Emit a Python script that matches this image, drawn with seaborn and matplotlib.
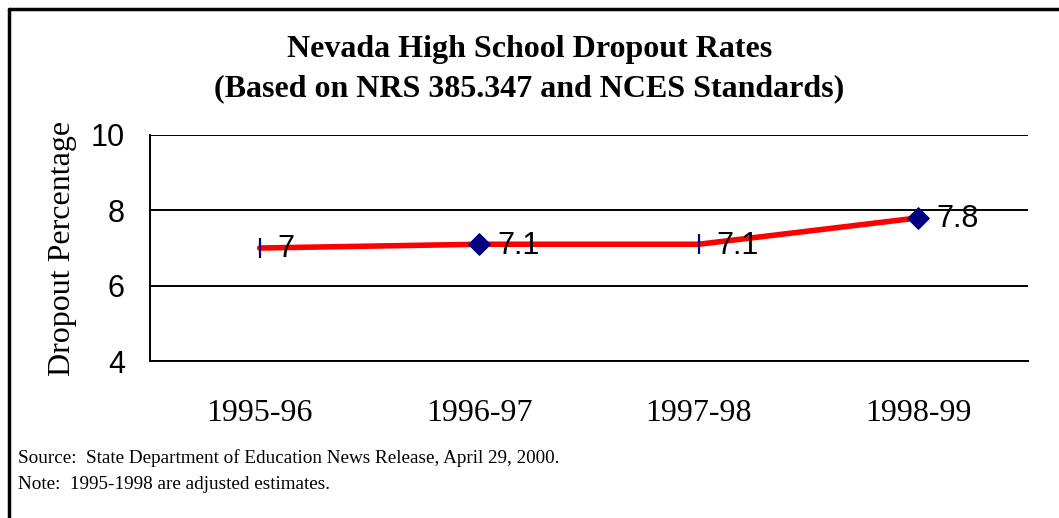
import matplotlib.pyplot as plt
import numpy as np
import pandas as pd
import seaborn as sns
from matplotlib.lines import Line2D

sns.set_style("white")
plt.rcParams["font.family"] = ["Liberation Serif", "DejaVu Serif"]
plt.rcParams["text.color"] = "black"
plt.rcParams["axes.labelcolor"] = "black"
plt.rcParams["xtick.color"] = "black"
plt.rcParams["ytick.color"] = "black"

years = ["1995-96", "1996-97", "1997-98", "1998-99"]
rates = [7.0, 7.1, 7.1, 7.8]
marker_kind = ["tick", "diamond", "tick", "diamond"]
yticks = [4, 6, 8, 10]

df = pd.DataFrame({"pos": np.arange(len(years)), "year": years, "rate": rates, "kind": marker_kind})

fig = plt.figure(figsize=(10.59, 5.18), dpi=100, facecolor="w")
ax = fig.add_axes([0.1416, 0.303, 0.9707 - 0.1416, 0.7394 - 0.303])

sns.lineplot(data=df, x="pos", y="rate", color="red", linewidth=4, ax=ax, zorder=2)
sns.scatterplot(data=df[df["kind"] == "tick"], x="pos", y="rate", marker="|",
                color="#000080", s=220, linewidth=1.6, ax=ax, zorder=3, legend=False)
sns.scatterplot(data=df[df["kind"] == "diamond"], x="pos", y="rate", marker="D",
                color="#000080", edgecolor="#000080", s=120, ax=ax, zorder=3, legend=False)

for _, r in df.iterrows():
    lbl = "%g" % r["rate"]
    ax.annotate(lbl, (r["pos"], r["rate"]), xytext=(13, -1), textcoords="offset points",
                va="center", ha="left", fontsize=22, family="Liberation Sans", zorder=4)

ax.set_xlim(-0.5, 3.5)
ax.set_ylim(4, 10)
ax.set_yticks(yticks)
ax.set_yticklabels([str(t) for t in yticks], family="Liberation Sans", fontsize=22)
ax.set_xticks(df["pos"])
ax.set_xticklabels(years, fontsize=23)
ax.tick_params(axis="both", length=0)
ax.tick_params(axis="y", pad=18)
ax.tick_params(axis="x", pad=27)
ax.set_xlabel("")
ax.set_ylabel("Dropout Percentage", fontsize=23, labelpad=10)
ax.yaxis.grid(True, color="black", linewidth=1.4)
ax.set_axisbelow(True)
for s in ["top", "right"]:
    ax.spines[s].set_visible(False)
for s in ["left", "bottom"]:
    ax.spines[s].set_color("black")
    ax.spines[s].set_linewidth(1.4)

fig.text(0.5, 0.866, "Nevada High School Dropout Rates\n(Based on NRS 385.347 and NCES Standards)",
         ha="center", va="center", fontsize=23, fontweight="bold", linespacing=1.45)

fig.text(0.017, 0.115, "Source:  State Department of Education News Release, April 29, 2000.", fontsize=13.8, va="center")
fig.text(0.017, 0.064, "Note:  1995-1998 are adjusted estimates.", fontsize=13.8, va="center")

# page frame (cut off at right and bottom)
fig.add_artist(Line2D([9 / 1059, 1], [1 - 9 / 518, 1 - 9 / 518], transform=fig.transFigure, color="black", linewidth=2.5))
fig.add_artist(Line2D([9 / 1059, 9 / 1059], [1 - 9 / 518, 0], transform=fig.transFigure, color="black", linewidth=2.5))

fig.savefig("out.png", dpi=100)
